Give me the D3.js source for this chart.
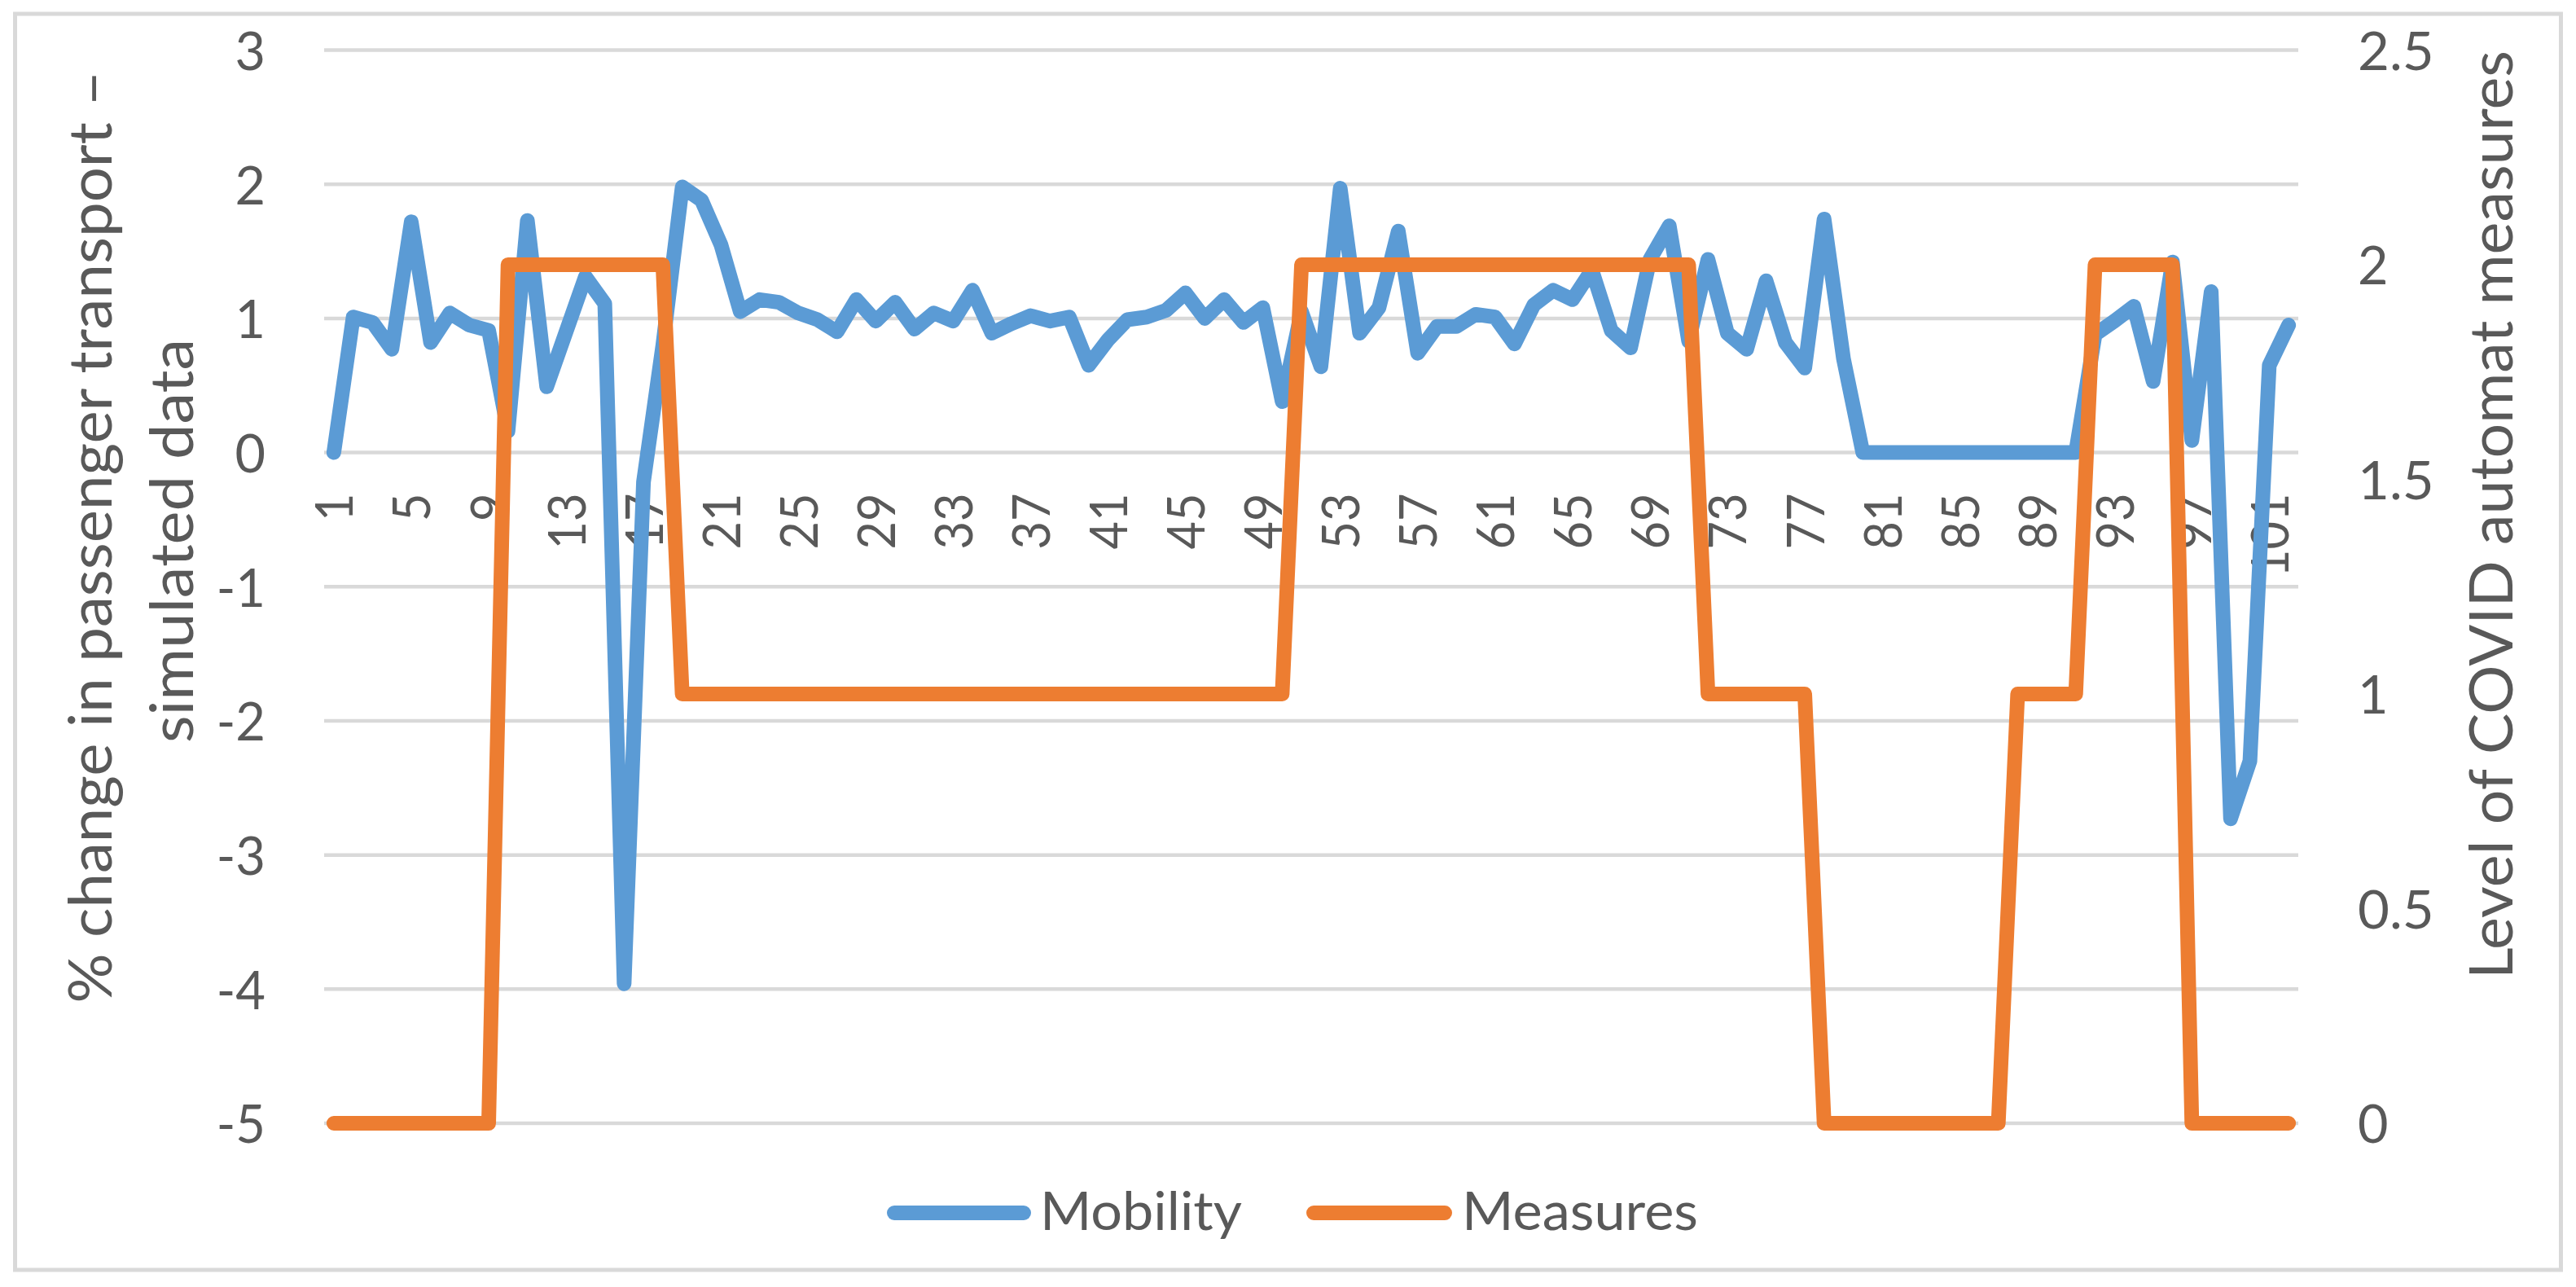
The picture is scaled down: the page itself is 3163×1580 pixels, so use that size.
<!DOCTYPE html>
<html>
<head>
<meta charset="utf-8">
<script src="https://cdn.jsdelivr.net/npm/d3@7/dist/d3.min.js"></script>
<style>
  html, body { margin: 0; padding: 0; background: #ffffff; }
  svg { display: block; }
  text { font-family: Lato, "Open Sans", "Liberation Sans", sans-serif; fill: #595959; }
</style>
</head>
<body>
<svg id="chart" width="3163" height="1580"></svg>
<script>
// ---------------- data ----------------
const categories = d3.range(1, 103); // 1..102
const mobility = [
  0, 1.01, 0.97, 0.77, 1.72, 0.82, 1.04, 0.95, 0.91, 0.16,
  1.73, 0.49, 0.90, 1.31, 1.11, -3.96, -0.22, 0.80, 1.98, 1.88,
  1.55, 1.05, 1.14, 1.12, 1.04, 0.99, 0.90, 1.14, 0.98, 1.12,
  0.92, 1.04, 0.98, 1.21, 0.89, 0.96, 1.02, 0.98, 1.01, 0.65,
  0.84, 0.99, 1.01, 1.06, 1.19, 1.00, 1.14, 0.97, 1.08, 0.38,
  1.05, 0.64, 1.97, 0.89, 1.08, 1.65, 0.74, 0.94, 0.94, 1.03,
  1.01, 0.81, 1.10, 1.21, 1.14, 1.36, 0.91, 0.78, 1.44, 1.69,
  0.83, 1.44, 0.89, 0.77, 1.28, 0.82, 0.63, 1.74, 0.70, 0,
  0, 0, 0, 0, 0, 0, 0, 0, 0, 0,
  0, 0.88, 0.98, 1.09, 0.53, 1.42, 0.09, 1.20, -2.73, -2.30,
  0.65, 0.95
];
const measures = [
  0, 0, 0, 0, 0, 0, 0, 0, 0, 2,
  2, 2, 2, 2, 2, 2, 2, 2, 1, 1,
  1, 1, 1, 1, 1, 1, 1, 1, 1, 1,
  1, 1, 1, 1, 1, 1, 1, 1, 1, 1,
  1, 1, 1, 1, 1, 1, 1, 1, 1, 1,
  2, 2, 2, 2, 2, 2, 2, 2, 2, 2,
  2, 2, 2, 2, 2, 2, 2, 2, 2, 2,
  2, 1, 1, 1, 1, 1, 1, 0, 0, 0,
  0, 0, 0, 0, 0, 0, 0, 1, 1, 1,
  1, 2, 2, 2, 2, 2, 0, 0, 0, 0,
  0, 0
];
const leftTicks = [-5, -4, -3, -2, -1, 0, 1, 2, 3];
const rightTicks = [0, 0.5, 1, 1.5, 2, 2.5];
const xTickLabels = categories.filter(c => (c - 1) % 4 === 0); // 1,5,...,101
const seriesNames = ["Mobility", "Measures"];
const leftTitle = ["% change in passenger transport \u2013", "simulated data"];
const rightTitle = "Level of COVID automat measures";

// ---------------- styling / layout ----------------
const colors = { Mobility: "#5B9BD5", Measures: "#ED7D31" };
const plot = { left: 398, right: 2822, top: 61.5, bottom: 1379 };
const textColor = "#595959";
const gridColor = "#d9d9d9";

// approximate Calibri advance widths (em) to keep text lengths like the original
const cw = { "0":.507,"1":.507,"2":.507,"3":.507,"4":.507,"5":.507,"6":.507,"7":.507,"8":.507,"9":.507,
  "-":.306, ".":.252 };
function calLen(s, size) { let w = 0; for (const ch of s) w += (cw[ch] || .5); return w * size; }

const svg = d3.select("#chart");

// chart border
svg.append("rect")
  .attr("x", 18.5).attr("y", 17).attr("width", 3126).attr("height", 1542)
  .attr("fill", "#fff").attr("stroke", gridColor).attr("stroke-width", 5);

// scales
const x = d3.scalePoint().domain(categories).range([plot.left, plot.right]).padding(0.5);
const yL = d3.scaleLinear().domain([-5, 3]).range([plot.bottom, plot.top]);
const yR = d3.scaleLinear().domain([0, 2.5]).range([plot.bottom, plot.top]);

// gridlines
svg.append("g").selectAll("line").data(leftTicks).join("line")
  .attr("x1", plot.left).attr("x2", plot.right)
  .attr("y1", d => yL(d)).attr("y2", d => yL(d))
  .attr("stroke", gridColor).attr("stroke-width", 4.5);

const fmt = d => String(d).replace("\u2212", "-");

// left axis
const gLeft = svg.append("g").attr("transform", `translate(${plot.left},0)`)
  .call(d3.axisLeft(yL).tickValues(leftTicks).tickSize(0).tickPadding(72).tickFormat(fmt));
gLeft.select(".domain").remove();
gLeft.selectAll("text")
  .attr("font-family", "Lato").attr("font-size", 66.5).attr("fill", textColor)
  .attr("dy", "0.36em")
  .attr("textLength", d => calLen(fmt(d), 74)).attr("lengthAdjust", "spacingAndGlyphs");

// right axis
const gRight = svg.append("g").attr("transform", `translate(${plot.right},0)`)
  .call(d3.axisRight(yR).tickValues(rightTicks).tickSize(0).tickPadding(73).tickFormat(d => String(d)));
gRight.select(".domain").remove();
gRight.selectAll("text")
  .attr("font-family", "Lato").attr("font-size", 66.5).attr("fill", textColor)
  .attr("dy", "0.36em")
  .attr("textLength", d => calLen(String(d), 74)).attr("lengthAdjust", "spacingAndGlyphs");

// bottom (category) axis, labels rotated, placed below the zero line
const gBottom = svg.append("g").attr("transform", `translate(0,${yL(0) + 50})`)
  .call(d3.axisBottom(x).tickValues(xTickLabels).tickSize(0).tickPadding(0));
gBottom.select(".domain").remove();
gBottom.selectAll("text")
  .attr("font-family", "Lato").attr("font-size", 64).attr("fill", textColor)
  .attr("y", 0).attr("x", 0).attr("dy", "0.36em")
  .attr("transform", "rotate(-90)")
  .attr("text-anchor", "end")
  .attr("textLength", d => calLen(String(d), 68)).attr("lengthAdjust", "spacingAndGlyphs");

// lines
const lineL = d3.line().x((d, i) => x(categories[i])).y(d => yL(d));
const lineR = d3.line().x((d, i) => x(categories[i])).y(d => yR(d));
svg.append("path").datum(mobility).attr("d", lineL)
  .attr("fill", "none").attr("stroke", colors.Mobility).attr("stroke-width", 18)
  .attr("stroke-linejoin", "round").attr("stroke-linecap", "round");
svg.append("path").datum(measures).attr("d", lineR)
  .attr("fill", "none").attr("stroke", colors.Measures).attr("stroke-width", 18)
  .attr("stroke-linejoin", "round").attr("stroke-linecap", "round");

// axis titles
svg.append("text").attr("transform", "translate(137,659) rotate(-90)")
  .attr("text-anchor", "middle").attr("font-size", 74)
  .attr("textLength", 1145).attr("lengthAdjust", "spacingAndGlyphs")
  .text(leftTitle[0]);
svg.append("text").attr("transform", "translate(237,664) rotate(-90)")
  .attr("text-anchor", "middle").attr("font-size", 74)
  .attr("textLength", 496).attr("lengthAdjust", "spacingAndGlyphs")
  .text(leftTitle[1]);
svg.append("text").attr("transform", "translate(3085,632) rotate(-90)")
  .attr("text-anchor", "middle").attr("font-size", 74)
  .attr("textLength", 1140).attr("lengthAdjust", "spacingAndGlyphs")
  .text(rightTitle);

// legend
const legendItems = [
  { name: seriesNames[0], x1: 1098, x2: 1257, tx: 1277, len: 248 },
  { name: seriesNames[1], x1: 1613, x2: 1774, tx: 1795, len: 290 }
];
const lg = svg.append("g");
legendItems.forEach(it => {
  lg.append("line").attr("x1", it.x1).attr("x2", it.x2).attr("y1", 1489).attr("y2", 1489)
    .attr("stroke", colors[it.name]).attr("stroke-width", 18).attr("stroke-linecap", "round");
  lg.append("text").attr("x", it.tx).attr("y", 1510).attr("font-size", 66)
    .attr("textLength", it.len).attr("lengthAdjust", "spacingAndGlyphs")
    .text(it.name);
});
</script>
</body>
</html>
